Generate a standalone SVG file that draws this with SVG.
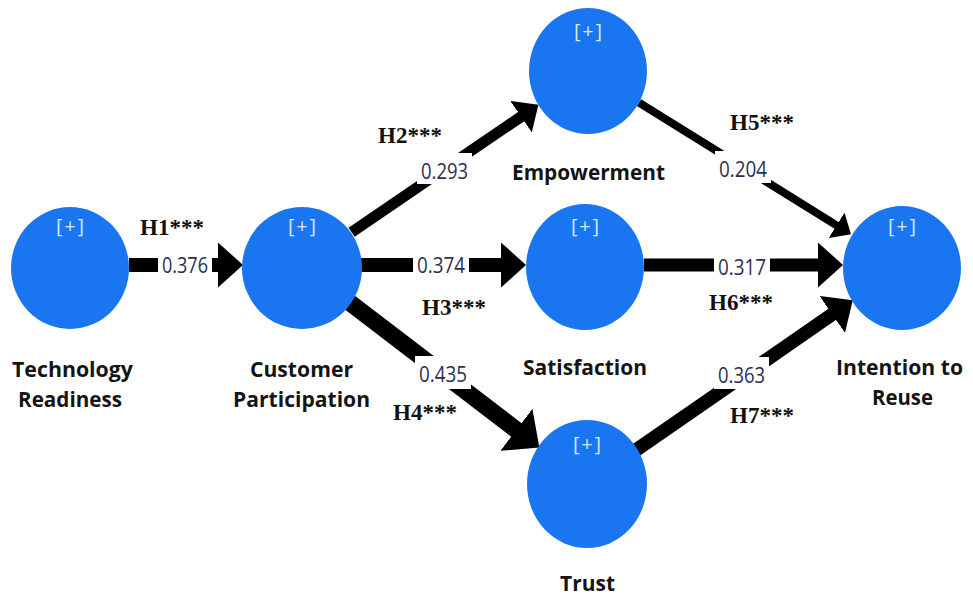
<svg xmlns="http://www.w3.org/2000/svg" width="973" height="598" viewBox="0 0 973 598">
  <style>
    .latent { fill: #1a76f0; }
    .expand { font-family: "Open Sans", "DejaVu Sans", sans-serif; font-size: 20px; fill: #d8e6fb; }
    .name { font-family: "Open Sans", "DejaVu Sans", sans-serif; font-weight: bold; font-size: 22px; fill: #141414; }
    .path { fill: none; stroke: #000; stroke-linecap: butt; }
    .coef { font-family: "Open Sans", "DejaVu Sans", sans-serif; font-size: 22px; fill: #2e2e52; }
    .coef-bg { fill: #fff; }
    .hyp { font-family: "Liberation Serif", "Times New Roman", serif; font-weight: bold; font-size: 23px; fill: #111; }
  </style>
  <defs>
    <marker id="arrow-s" markerUnits="userSpaceOnUse" markerWidth="17" markerHeight="30" refX="1" refY="15" orient="auto">
      <path d="M0,0 L17,15 L0,30 Z" fill="#000"/>
    </marker>
    <marker id="arrow-m" markerUnits="userSpaceOnUse" markerWidth="21" markerHeight="38" refX="1" refY="19" orient="auto">
      <path d="M0,0 L21,19 L0,38 Z" fill="#000"/>
    </marker>
    <marker id="arrow-l" markerUnits="userSpaceOnUse" markerWidth="25" markerHeight="45" refX="1" refY="22.5" orient="auto">
      <path d="M0,0 L25,22.5 L0,45 Z" fill="#000"/>
    </marker>
    <marker id="arrow-xl" markerUnits="userSpaceOnUse" markerWidth="29" markerHeight="53" refX="1" refY="26.5" orient="auto">
      <path d="M0,0 L29,26.5 L0,53 Z" fill="#000"/>
    </marker>
  </defs>

  <rect width="973" height="598" fill="#fff"/>

  <!-- structural paths; stroke width follows the path coefficient -->
  <g id="connectors">
    <path id="p-tr-cp" class="path" stroke-width="14" d="M129,265 L219,265" marker-end="url(#arrow-l)"/>
    <path id="p-cp-emp" class="path" stroke-width="11" d="M351.6,232.2 L521.9,116.1" marker-end="url(#arrow-m)"/>
    <path id="p-cp-sat" class="path" stroke-width="14" d="M361,265 L502,265" marker-end="url(#arrow-l)"/>
    <path id="p-cp-tru" class="path" stroke-width="17" d="M349.7,302.5 L517.1,430.5" marker-end="url(#arrow-xl)"/>
    <path id="p-emp-ir" class="path" stroke-width="8" d="M639,102.7 L837.4,225.9" marker-end="url(#arrow-s)"/>
    <path id="p-sat-ir" class="path" stroke-width="13" d="M644,265 L819,265" marker-end="url(#arrow-l)"/>
    <path id="p-tru-ir" class="path" stroke-width="13.5" d="M636.3,449.9 L833,313.8" marker-end="url(#arrow-l)"/>
  </g>

  <!-- path coefficients, each on a white patch that breaks its line -->
  <g id="coefficients">
    <rect class="coef-bg" x="158" y="247" width="54" height="31"/>
    <text class="coef" x="162" y="273" textLength="46" lengthAdjust="spacingAndGlyphs">0.376</text>
    <rect class="coef-bg" x="417" y="153" width="55" height="31"/>
    <text class="coef" x="421" y="179" textLength="47" lengthAdjust="spacingAndGlyphs">0.293</text>
    <rect class="coef-bg" x="413" y="247" width="56" height="31"/>
    <text class="coef" x="417" y="273" textLength="48" lengthAdjust="spacingAndGlyphs">0.374</text>
    <rect class="coef-bg" x="415" y="356" width="56" height="33"/>
    <text class="coef" x="419" y="382" textLength="48" lengthAdjust="spacingAndGlyphs">0.435</text>
    <rect class="coef-bg" x="715" y="151" width="56" height="32"/>
    <text class="coef" x="719" y="177" textLength="48" lengthAdjust="spacingAndGlyphs">0.204</text>
    <rect class="coef-bg" x="714" y="249" width="56" height="31"/>
    <text class="coef" x="718" y="275" textLength="48" lengthAdjust="spacingAndGlyphs">0.317</text>
    <rect class="coef-bg" x="714" y="357" width="55" height="32"/>
    <text class="coef" x="718" y="383" textLength="47" lengthAdjust="spacingAndGlyphs">0.363</text>
  </g>

  <!-- hypothesis tags -->
  <g id="hypotheses">
    <text class="hyp" x="140" y="235">H1***</text>
    <text class="hyp" x="378" y="143">H2***</text>
    <text class="hyp" x="422" y="315">H3***</text>
    <text class="hyp" x="393" y="420">H4***</text>
    <text class="hyp" x="730" y="130">H5***</text>
    <text class="hyp" x="709" y="310">H6***</text>
    <text class="hyp" x="730" y="423">H7***</text>
  </g>

  <!-- latent variables -->
  <g id="technology-readiness">
    <ellipse class="latent" cx="70" cy="268" rx="59" ry="61"/>
    <text class="expand" x="56" y="233" textLength="28" lengthAdjust="spacing">[+]</text>
    <text class="name" x="12" y="377" textLength="121" lengthAdjust="spacingAndGlyphs">Technology</text>
    <text class="name" x="18" y="407" textLength="104" lengthAdjust="spacingAndGlyphs">Readiness</text>
  </g>

  <g id="customer-participation">
    <ellipse class="latent" cx="302" cy="268" rx="60" ry="61"/>
    <text class="expand" x="288" y="233" textLength="28" lengthAdjust="spacing">[+]</text>
    <text class="name" x="250" y="377" textLength="103" lengthAdjust="spacingAndGlyphs">Customer</text>
    <text class="name" x="233" y="407" textLength="137" lengthAdjust="spacingAndGlyphs">Participation</text>
  </g>

  <g id="empowerment">
    <ellipse class="latent" cx="588" cy="71" rx="59" ry="63"/>
    <text class="expand" x="574" y="38" textLength="28" lengthAdjust="spacing">[+]</text>
    <text class="name" x="512" y="180" textLength="153" lengthAdjust="spacingAndGlyphs">Empowerment</text>
  </g>

  <g id="satisfaction">
    <ellipse class="latent" cx="585" cy="267" rx="59" ry="63"/>
    <text class="expand" x="571" y="233" textLength="28" lengthAdjust="spacing">[+]</text>
    <text class="name" x="523" y="375" textLength="124" lengthAdjust="spacingAndGlyphs">Satisfaction</text>
  </g>

  <g id="trust">
    <ellipse class="latent" cx="587" cy="484" rx="60" ry="64"/>
    <text class="expand" x="573" y="451" textLength="28" lengthAdjust="spacing">[+]</text>
    <text class="name" x="560" y="591" textLength="55" lengthAdjust="spacingAndGlyphs">Trust</text>
  </g>

  <g id="intention-to-reuse">
    <ellipse class="latent" cx="902" cy="268" rx="59" ry="62"/>
    <text class="expand" x="888" y="233" textLength="28" lengthAdjust="spacing">[+]</text>
    <text class="name" x="836" y="375" textLength="127" lengthAdjust="spacingAndGlyphs">Intention to</text>
    <text class="name" x="872" y="405" textLength="61" lengthAdjust="spacingAndGlyphs">Reuse</text>
  </g>
</svg>
